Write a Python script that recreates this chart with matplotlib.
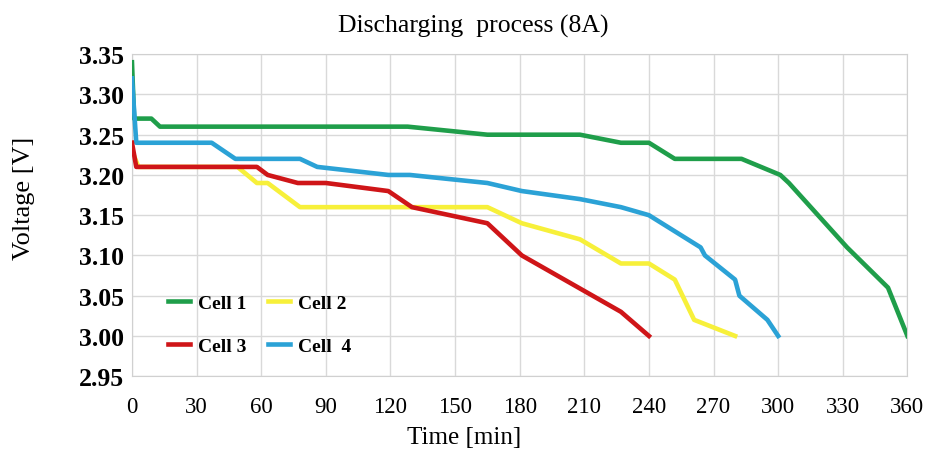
import numpy as np
import matplotlib.pyplot as plt

# discharge curves (time in min, voltage in V)
t_cell1 = [0, 1, 9, 13, 128, 165, 208, 227, 240, 252, 283, 301, 305, 332, 351, 360]
v_cell1 = [3.34, 3.27, 3.27, 3.26, 3.26, 3.25, 3.25, 3.24, 3.24, 3.22, 3.22, 3.20, 3.19, 3.11, 3.06, 3.00]

t_cell2 = [0, 3, 49, 58, 63, 78, 165, 181, 208, 227, 240, 252, 261, 280]
v_cell2 = [3.23, 3.21, 3.21, 3.19, 3.19, 3.16, 3.16, 3.14, 3.12, 3.09, 3.09, 3.07, 3.02, 3.00]

t_cell3 = [0, 2, 58, 63, 77, 90, 119, 130, 165, 181, 227, 240]
v_cell3 = [3.24, 3.21, 3.21, 3.20, 3.19, 3.19, 3.18, 3.16, 3.14, 3.10, 3.03, 3.00]

t_cell4 = [0, 2, 37, 48, 78, 86, 119, 129, 165, 181, 208, 227, 240, 264, 266, 280, 282, 295, 300]
v_cell4 = [3.32, 3.24, 3.24, 3.22, 3.22, 3.21, 3.20, 3.20, 3.19, 3.18, 3.17, 3.16, 3.15, 3.11, 3.10, 3.07, 3.05, 3.02, 3.00]

x_ticks = np.arange(0, 361, 30)
y_ticks = np.arange(2.95, 3.351, 0.05)

plt.rcParams['font.family'] = ['Liberation Serif', 'DejaVu Serif']

fig = plt.figure(figsize=(9.32, 4.6), dpi=100)
ax = fig.add_axes([0.1416, 0.180, 0.832, 0.700])

lw = 3.3
l1, = ax.plot(t_cell1, v_cell1, color='#1f9e4a', lw=lw, label='Cell 1', zorder=3)
l2, = ax.plot(t_cell2, v_cell2, color='#f7f03a', lw=lw, label='Cell 2', zorder=2)
l3, = ax.plot(t_cell3, v_cell3, color='#cf1518', lw=lw, label='Cell 3', zorder=4)
l4, = ax.plot(t_cell4, v_cell4, color='#2ba2d6', lw=lw, label='Cell  4', zorder=3)

ax.set_xlim(0, 360)
ax.set_ylim(2.95, 3.35)
ax.set_xticks(x_ticks)
ax.set_yticks(y_ticks)
ax.set_yticklabels(['%.2f' % v for v in y_ticks], fontweight='bold', fontsize=18.5)
ax.set_xticklabels([str(v) for v in x_ticks], fontsize=16.5)
ax.tick_params(axis='x', length=0, pad=14)
ax.tick_params(axis='y', length=0, pad=6)
ax.grid(True, color='#d9d9d9', lw=1)
ax.set_axisbelow(True)
for s in ax.spines.values():
    s.set_color('#d0d0d0')

ax.set_xlabel('Time [min]', fontsize=18)
ax.xaxis.set_label_coords(0.428, -0.155)
ax.set_ylabel('Voltage [V]', fontsize=19)
ax.yaxis.set_label_coords(-0.125, 0.556)
ax.set_title('Discharging  process (8A)', fontsize=18.5, x=0.44, pad=16)

# rows: Cell 1 / Cell 2, then Cell 3 / Cell 4
leg = ax.legend([l1, l3, l2, l4], ['Cell 1', 'Cell 3', 'Cell 2', 'Cell  4'],
                ncol=2, loc='center left', bbox_to_anchor=(0.046, 0.16), frameon=False,
                prop={'weight': 'bold', 'size': 14}, handlelength=1.15,
                labelspacing=1.3, columnspacing=1.1, handletextpad=0.4,
                borderpad=0, borderaxespad=0)

fig.savefig('out.png', dpi=100)
